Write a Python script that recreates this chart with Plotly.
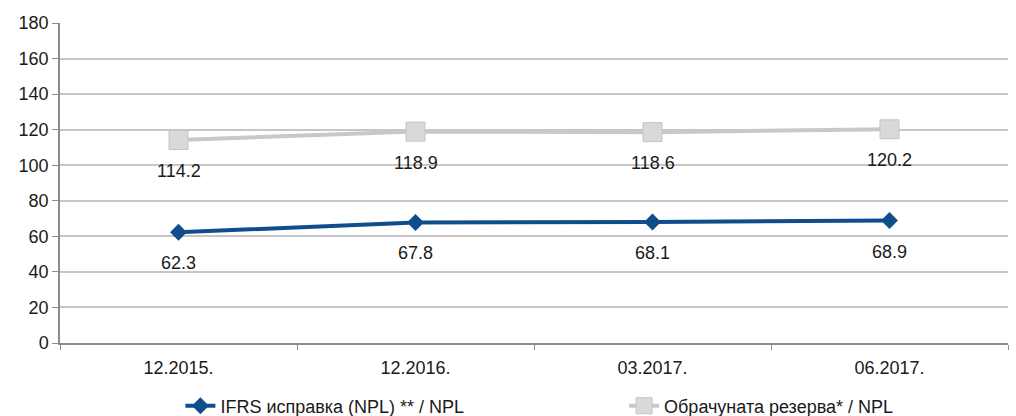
import plotly.graph_objects as go

# Periods on the x-axis
periods = ["12.2015.", "12.2016.", "03.2017.", "06.2017."]

# Coverage ratios, %
ifrs_allowance = [62.3, 67.8, 68.1, 68.9]
calculated_reserve = [114.2, 118.9, 118.6, 120.2]

name_ifrs = "IFRS исправка (NPL) ** / NPL"
name_reserve = "Обрачуната резерва* / NPL"

y_ticks = list(range(0, 181, 20))

FONT = "Liberation Sans, Arial, sans-serif"
TEXT_COLOR = "#1a1a1a"
FS = 18

fig = go.Figure()

fig.add_trace(go.Scatter(
    x=periods, y=ifrs_allowance, name=name_ifrs, mode="lines+markers",
    line=dict(color="#104e8b", width=4),
    marker=dict(symbol="diamond", size=13, color="#104e8b"),
    legend="legend",
))
fig.add_trace(go.Scatter(
    x=periods, y=calculated_reserve, name=name_reserve, mode="lines+markers",
    line=dict(color="#c8c8c8", width=4),
    marker=dict(symbol="square", size=19, color="#d9d9d9",
                line=dict(color="#c4c4c4", width=1)),
    legend="legend2",
))

# Value labels under each point
for series in (ifrs_allowance, calculated_reserve):
    for p, v in zip(periods, series):
        fig.add_annotation(
            x=p, y=v, text=f"{v:.1f}", showarrow=False, yshift=-31,
            font=dict(family=FONT, size=FS, color=TEXT_COLOR),
        )

legend_style = dict(
    orientation="h", xanchor="left", y=-0.197, yanchor="middle",
    font=dict(family=FONT, size=FS, color=TEXT_COLOR),
    itemclick=False, bgcolor="rgba(0,0,0,0)",
)

fig.update_layout(
    width=1016, height=416,
    margin=dict(l=60, r=8, t=23, b=73, autoexpand=False),
    paper_bgcolor="white", plot_bgcolor="white",
    font=dict(family=FONT, size=FS, color=TEXT_COLOR),
    showlegend=True,
    legend=dict(x=0.127, **legend_style),
    legend2=dict(x=0.595, **legend_style),
)

fig.update_xaxes(
    type="category", range=[-0.5, 3.5],
    showline=True, linecolor="#8c8c8c", linewidth=1.5,
    tickson="boundaries", ticks="outside", ticklen=5, tickcolor="#8c8c8c",
    ticklabelstandoff=8,
    showgrid=False, zeroline=False,
    tickfont=dict(family=FONT, size=FS, color=TEXT_COLOR),
)
fig.update_yaxes(
    range=[0, 180], tickvals=y_ticks,
    showline=True, linecolor="#8c8c8c", linewidth=1.5,
    ticks="outside", ticklen=6, tickcolor="#8c8c8c",
    showgrid=True, gridcolor="#c6c6c6", gridwidth=1.5,
    zeroline=False,
    tickfont=dict(family=FONT, size=FS, color=TEXT_COLOR),
)

fig.write_html("out.html")
